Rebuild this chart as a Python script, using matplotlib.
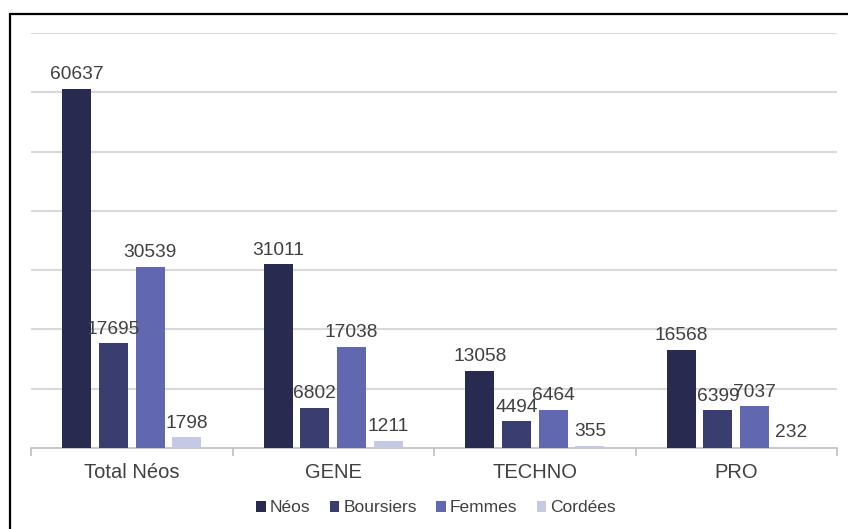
import matplotlib
matplotlib.use("Agg")
import matplotlib.pyplot as plt
from matplotlib.patches import Rectangle, Patch
import numpy as np

plt.rcParams['font.family'] = ['Liberation Sans', 'DejaVu Sans']

categories = ["Total Néos", "GENE", "TECHNO", "PRO"]
series_names = ["Néos", "Boursiers", "Femmes", "Cordées"]
neos = [60637, 31011, 13058, 16568]
boursiers = [17695, 6802, 4494, 6399]
femmes = [30539, 17038, 6464, 7037]
cordees = [1798, 1211, 355, 232]
series = [neos, boursiers, femmes, cordees]
colors = ["#282a4f", "#3a3d70", "#6168b0", "#c6c9e3"]

W, H = 848, 529
fig = plt.figure(figsize=(W / 100, H / 100), dpi=100)
ax = fig.add_axes([31 / W, 81 / H, (837 - 31) / W, (496 - 81) / H])

x = np.arange(len(categories))
step = 0.182
width = 0.144
offsets = [-1.5 * step, -0.5 * step, 0.5 * step, 1.5 * step]

for vals, off, col in zip(series, offsets, colors):
    bars = ax.bar(x + off, vals, width=width, color=col, zorder=3)
    for b, v in zip(bars, vals):
        ax.annotate(str(v), (b.get_x() + b.get_width() / 2, v),
                    xytext=(0, 4), textcoords="offset points",
                    ha="center", va="bottom", fontsize=13.8, color="#404040",
                    zorder=4)

ax.set_xlim(-0.5, len(categories) - 0.5)
ax.set_ylim(0, 70000)
ax.set_yticks(np.arange(10000, 70001, 10000))
ax.yaxis.grid(True, color="#d9d9d9", linewidth=1.5, zorder=0)
ax.set_yticklabels([])
ax.tick_params(axis="y", length=0)

for s in ["top", "right", "left"]:
    ax.spines[s].set_visible(False)
ax.spines["bottom"].set_color("#bfbfbf")
ax.spines["bottom"].set_linewidth(1.2)

ax.set_xticks(np.arange(-0.5, len(categories), 1.0), minor=False)
ax.set_xticklabels([])
ax.tick_params(axis="x", which="major", length=6, color="#bfbfbf", width=1.2)
ax.set_xticks(x, minor=True)
ax.set_xticklabels(categories, minor=True, fontsize=14.5, color="#404040")
ax.tick_params(axis="x", which="minor", length=0, pad=11)

handles = [Patch(facecolor=c, edgecolor="none") for c in colors]
fig.legend(handles, series_names, loc="center", bbox_to_anchor=(436 / W, 1 - 508 / H),
           ncol=4, frameon=False, fontsize=12.5, handlelength=0.55, handleheight=0.55,
           handletextpad=0.25, columnspacing=1.1, labelcolor="#404040")

fig.patches.append(Rectangle((10 / W, -0.1), 1.2, (1 - 13.5 / H) + 0.1,
                             transform=fig.transFigure, fill=False,
                             edgecolor="black", linewidth=1.6, zorder=10))

fig.savefig("out.png", dpi=100)
